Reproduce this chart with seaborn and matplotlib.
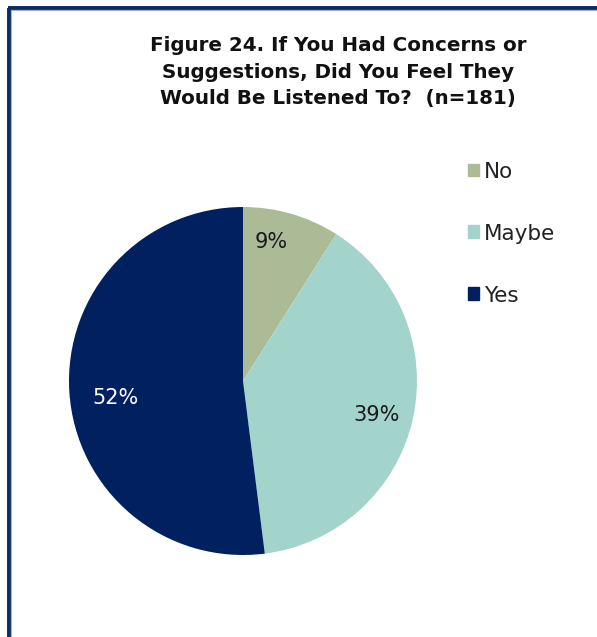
import numpy as np
import matplotlib
matplotlib.use("Agg")
import matplotlib.pyplot as plt
from matplotlib.lines import Line2D
import seaborn as sns

categories = ["No", "Maybe", "Yes"]
shares = [9, 39, 52]
colors = ["#abbb95", "#a2d4cc", "#012060"]
label_colors = ["#1a1a1a", "#1a1a1a", "#ffffff"]
title = "Figure 24. If You Had Concerns or\nSuggestions, Did You Feel They\nWould Be Listened To?  (n=181)"

# label placement: radial distance and angular nudge from the wedge bisector
label_dist = [0.816, 0.794, 0.737]
label_nudge = [4.9, -1.6, 4.0]

sns.set_theme(style="white")
plt.rcParams["font.family"] = ["DejaVu Sans"]

W, H = 597, 637
fig = plt.figure(figsize=(W / 100, H / 100), dpi=100)
fig.patch.set_facecolor("white")

# frame around the chart (left and top edges visible)
fx = lambda px: px / W
fy = lambda py: 1 - py / H
fig.add_artist(Line2D([fx(9), fx(9)], [fy(8), 0], color="#0c2a63", lw=2.8, solid_capstyle="butt"))
fig.add_artist(Line2D([fx(7.6), 1], [fy(8), fy(8)], color="#0c2a63", lw=2.8, solid_capstyle="butt"))
fig.add_artist(Line2D([fx(11), fx(11)], [fy(10), 0], color="#9fb3d8", lw=0.8))
fig.add_artist(Line2D([fx(11), 1], [fy(10), fy(10)], color="#9fb3d8", lw=0.8))

# pie axes: centre (243, 381), radius ~174 px
r = 174
ax = fig.add_axes([fx(243 - r), fy(381 + r), 2 * r / W, 2 * r / H])
wedges, _ = ax.pie(shares, colors=colors, startangle=90, counterclock=False,
                   wedgeprops=dict(linewidth=0))
ax.set_aspect("equal")
ax.set_xlim(-1, 1)
ax.set_ylim(-1, 1)
ax.axis("off")

for w, v, d, n, c in zip(wedges, shares, label_dist, label_nudge, label_colors):
    ang = np.deg2rad((w.theta1 + w.theta2) / 2 + n)
    ax.text(d * np.cos(ang), d * np.sin(ang), f"{v}%", ha="center", va="center",
            fontsize=15, color=c)

fig.text(fx(338), fy(72), title, ha="center", va="center", fontsize=14.3,
         fontweight="bold", linespacing=1.5, color="#111111")

handles = [plt.Rectangle((0, 0), 1, 1, color=c) for c in colors]
leg = fig.legend(handles, categories, loc="upper left", bbox_to_anchor=(fx(459), fy(153)),
                 frameon=False, fontsize=15.5, handlelength=0.55, handleheight=0.55,
                 handletextpad=0.2, labelspacing=1.95, borderaxespad=0)
for t in leg.get_texts():
    t.set_color("#222222")

fig.savefig("out.png", dpi=100, facecolor="white")
